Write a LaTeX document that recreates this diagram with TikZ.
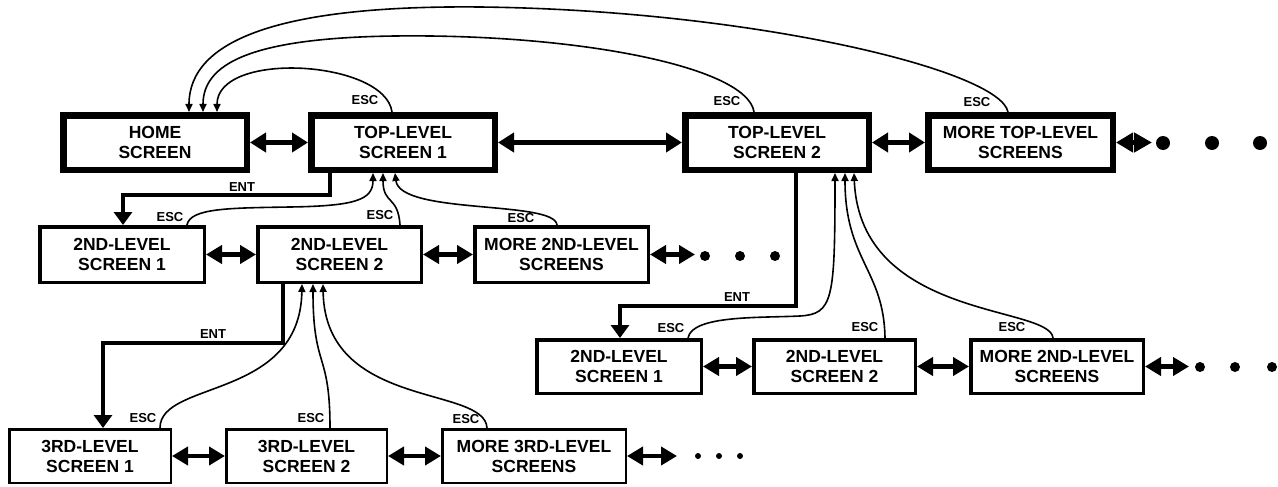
\documentclass[tikz,border=0pt]{standalone}
\usepackage{fontspec}
\setmainfont{Liberation Sans}
\usetikzlibrary{arrows.meta}
\tikzset{
  box/.style={draw, align=center, inner sep=0pt, font=\fontsize{17.5}{20}\selectfont\bfseries},
  topbox/.style={box, line width=6.5pt, minimum height=54.5pt},
  midbox/.style={box, line width=3.5pt},
  lowbox/.style={box, line width=2.5pt, minimum height=53.5pt},
  lbl/.style={font=\fontsize{13}{13}\selectfont\bfseries, inner sep=0pt},
  dblbig/.style={line width=4.5pt, {Triangle[length=16pt,width=19pt]}-{Triangle[length=16pt,width=19pt]}},
  dbl/.style={line width=4.5pt, {Triangle[length=16pt,width=18pt]}-{Triangle[length=16pt,width=18pt]}},
  ent/.style={line width=3.5pt, -{Triangle[length=13pt,width=18pt]}},
  esc/.style={line width=1.6pt, -{Triangle[length=8pt,width=7pt]}},
  bigdot/.style={circle, fill, inner sep=0pt, minimum size=14pt},
  middot/.style={circle, fill, inner sep=0pt, minimum size=10pt},
  smalldot/.style={circle, fill, inner sep=0pt, minimum size=6pt},
}
\begin{document}
\begin{tikzpicture}[x=1pt,y=-1pt]
\useasboundingbox (0,0) rectangle (1278,487);
% top row
\node[topbox, minimum width=183.5pt] (home) at (155,142.5) {HOME\\SCREEN};
\node[topbox, minimum width=183.5pt] (top1) at (403,142.5) {TOP-LEVEL\\SCREEN 1};
\node[topbox, minimum width=183.5pt] (top2) at (777,142.5) {TOP-LEVEL\\SCREEN 2};
\node[topbox, minimum width=184.5pt] (mtop) at (1020.5,142.5) {MORE TOP-LEVEL\\SCREENS};
\node[bigdot] (tdot1) at (1163,143) {};
\node[bigdot] (tdot2) at (1212,143) {};
\node[bigdot] (tdot3) at (1260,143) {};
\coordinate (tend) at (1152,142.5);
% second row left
\node[midbox, minimum width=164.5pt, minimum height=55.5pt] (s1) at (122,254.5) {2ND-LEVEL\\SCREEN 1};
\node[midbox, minimum width=163.5pt, minimum height=55.5pt] (s2) at (339.5,254.5) {2ND-LEVEL\\SCREEN 2};
\node[midbox, minimum width=173.5pt, minimum height=55.5pt] (s3) at (561.5,254.5) {MORE 2ND-LEVEL\\SCREENS};
\node[middot] (sdot1) at (705,256) {};
\node[middot] (sdot2) at (740,256) {};
\node[middot] (sdot3) at (775,256) {};
\coordinate (send) at (695,254.5);
% second row right
\node[midbox, minimum width=164.5pt, minimum height=53.5pt] (r1) at (619,366.5) {2ND-LEVEL\\SCREEN 1};
\node[midbox, minimum width=161.5pt, minimum height=53.5pt] (r2) at (834.5,366.5) {2ND-LEVEL\\SCREEN 2};
\node[midbox, minimum width=172.5pt, minimum height=53.5pt] (r3) at (1057,366.5) {MORE 2ND-LEVEL\\SCREENS};
\node[middot] (rdot1) at (1200,367) {};
\node[middot] (rdot2) at (1235,367) {};
\node[middot] (rdot3) at (1272,367) {};
\coordinate (rend) at (1189,366.5);
% third row
\node[lowbox, minimum width=161.5pt] (t1) at (90,456) {3RD-LEVEL\\SCREEN 1};
\node[lowbox, minimum width=160.5pt] (t2) at (306.5,456) {3RD-LEVEL\\SCREEN 2};
\node[lowbox, minimum width=183.5pt] (t3) at (534,456) {MORE 3RD-LEVEL\\SCREENS};
\node[smalldot] (udot1) at (698,456) {};
\node[smalldot] (udot2) at (719,456) {};
\node[smalldot] (udot3) at (740,456) {};
\coordinate (uend) at (677,456);
% double arrows
\draw[dblbig] (home) -- (top1);
\draw[dblbig] (top1) -- (top2);
\draw[dblbig] (top2) -- (mtop);
\draw[line width=4.5pt, {Triangle[length=17pt,width=19pt]}-{Triangle[length=18pt,width=19pt]}] (mtop.east) -- (tend);
\draw[dbl] (s1) -- (s2);
\draw[dbl] (s2) -- (s3);
\draw[dbl] (s3.east) -- (send);
\draw[dbl] (r1) -- (r2);
\draw[dbl] (r2) -- (r3);
\draw[dbl] (r3.east) -- (rend);
\draw[dbl] (t1) -- (t2);
\draw[dbl] (t2) -- (t3);
\draw[dbl] (t3.east) -- (uend);
% ENT connectors
\draw[ent] ([xshift=-73pt]top1.south) -- ++(0,22) -| ([xshift=1pt]s1.north);
\draw[ent] ([xshift=-56.5pt]s2.south) -- ++(0,59) -| ([xshift=13pt]t1.north);
\draw[ent] ([xshift=19pt]top2.south) -- ++(0,133) -| ([xshift=1pt]r1.north);
\node[lbl] (entA) at (242,187) {ENT};
\node[lbl] (entB) at (213,334) {ENT};
\node[lbl] (entC) at (737,297) {ENT};
% ESC to home
\draw[esc] ([xshift=-11pt]top1.north) .. controls (385,60) and (217,50) .. ([xshift=62pt]home.north);
\draw[esc] ([xshift=-23pt]top2.north) .. controls (748,70) and (600,38) .. (430,36) .. controls (260,34) and (203,60) .. ([xshift=48pt]home.north);
\draw[esc] ([xshift=-12.5pt]mtop.north) .. controls (1000,70) and (750,10) .. (480,7) .. controls (280,5) and (189,40) .. ([xshift=34pt]home.north);
% ESC to top1
\draw[esc] ([xshift=65pt]s1.north) .. controls (190,208) and (230,208) .. (290,207) .. controls (355,206) and (373,200) .. ([xshift=-30pt]top1.south);
\draw[esc] ([xshift=60.5pt]s2.north) .. controls (398,195) and (383,205) .. ([xshift=-20pt]top1.south);
\draw[esc] ([xshift=-4.5pt]s3.north) .. controls (555,200) and (400,215) .. ([xshift=-8pt]top1.south);
% ESC to s2
\draw[esc] ([xshift=70pt]t1.north) .. controls (160,380) and (300,400) .. ([xshift=-37.5pt]s2.south);
\draw[esc] ([xshift=23.5pt]t2.north) .. controls (330,350) and (313,370) .. ([xshift=-26.5pt]s2.south);
\draw[esc] ([xshift=-47pt]t3.north) .. controls (485,385) and (325,410) .. ([xshift=-16.5pt]s2.south);
% ESC to top2
\draw[esc] ([xshift=69pt]r1.north) .. controls (692,315) and (760,318) .. (800,316) .. controls (833,314) and (835,300) .. ([xshift=58pt]top2.south);
\draw[esc] ([xshift=50.5pt]r2.north) .. controls (884,270) and (845,260) .. ([xshift=68pt]top2.south);
\draw[esc] ([xshift=-4pt]r3.north) .. controls (1050,305) and (860,320) .. ([xshift=77pt]top2.south);
% ESC labels
\node[lbl] (escA) at (365,100) {ESC};
\node[lbl] (escB) at (727,101) {ESC};
\node[lbl] (escC) at (977,102) {ESC};
\node[lbl] (escD) at (170,217) {ESC};
\node[lbl] (escE) at (380,215) {ESC};
\node[lbl] (escF) at (521,218) {ESC};
\node[lbl] (escG) at (143,418) {ESC};
\node[lbl] (escH) at (311,418) {ESC};
\node[lbl] (escI) at (466,419) {ESC};
\node[lbl] (escJ) at (671,328) {ESC};
\node[lbl] (escK) at (865,327) {ESC};
\node[lbl] (escL) at (1012,327) {ESC};
\end{tikzpicture}
\end{document}
